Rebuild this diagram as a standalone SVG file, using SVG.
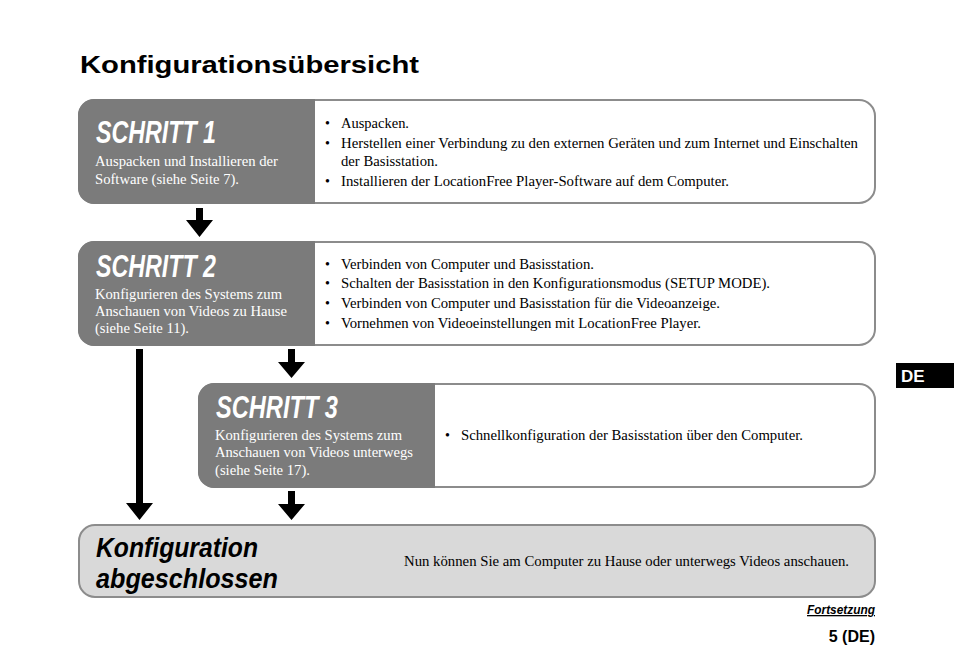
<svg xmlns="http://www.w3.org/2000/svg" width="954" height="671" viewBox="0 0 954 671">
<style>
.frame{fill:#ffffff;stroke:#8c8c8c;stroke-width:2}
.panel{fill:#7b7b7b}
.step{font-family:"Liberation Sans",Arial,sans-serif;font-weight:bold;font-style:italic;font-size:31px;fill:#ffffff}
.sub{font-family:"Liberation Serif","Times New Roman",serif;font-size:14px;fill:#ffffff}
.body{font-family:"Liberation Serif","Times New Roman",serif;font-size:14px;fill:#000000}
.done{font-family:"Liberation Sans",Arial,sans-serif;font-weight:bold;font-style:italic;font-size:27.5px;fill:#000000}
.arrow{fill:#000000}
</style>
<rect width="954" height="671" fill="#ffffff"/>
<text x="80" y="73" font-family="Liberation Sans,Arial,sans-serif" font-weight="900" font-size="23" textLength="339" lengthAdjust="spacingAndGlyphs">Konfigurationsübersicht</text>

<g id="schritt1">
<rect class="frame" x="79" y="100" width="796" height="103" rx="16"/>
<path class="panel" d="M315,99 H95 A16,16 0 0 0 78,116 V187 A16,16 0 0 0 95,204 H315 Z"/>
<text class="step" x="96" y="143" textLength="120" lengthAdjust="spacingAndGlyphs">SCHRITT 1</text>
<text class="sub" x="95" y="166" textLength="183" lengthAdjust="spacingAndGlyphs">Auspacken und Installieren der</text>
<text class="sub" x="95" y="184" textLength="144" lengthAdjust="spacingAndGlyphs">Software (siehe Seite 7).</text>
<text class="body" x="325" y="128">•</text><text class="body" x="341" y="128" textLength="68" lengthAdjust="spacingAndGlyphs">Auspacken.</text>
<text class="body" x="325" y="148">•</text><text class="body" x="341" y="148" textLength="517" lengthAdjust="spacingAndGlyphs">Herstellen einer Verbindung zu den externen Geräten und zum Internet und Einschalten</text>
<text class="body" x="341" y="166" textLength="97" lengthAdjust="spacingAndGlyphs">der Basisstation.</text>
<text class="body" x="325" y="186">•</text><text class="body" x="341" y="186" textLength="388" lengthAdjust="spacingAndGlyphs">Installieren der LocationFree Player-Software auf dem Computer.</text>
</g>

<g id="schritt2">
<rect class="frame" x="79" y="242" width="796" height="103" rx="16"/>
<path class="panel" d="M315,241 H95 A16,16 0 0 0 78,258 V329 A16,16 0 0 0 95,346 H315 Z"/>
<text class="step" x="96" y="277" textLength="120" lengthAdjust="spacingAndGlyphs">SCHRITT 2</text>
<text class="sub" x="95" y="299" textLength="187" lengthAdjust="spacingAndGlyphs">Konfigurieren des Systems zum</text>
<text class="sub" x="95" y="316" textLength="192" lengthAdjust="spacingAndGlyphs">Anschauen von Videos zu Hause</text>
<text class="sub" x="95" y="333" textLength="94" lengthAdjust="spacingAndGlyphs">(siehe Seite 11).</text>
<text class="body" x="325" y="269">•</text><text class="body" x="341" y="269" textLength="253" lengthAdjust="spacingAndGlyphs">Verbinden von Computer und Basisstation.</text>
<text class="body" x="325" y="288">•</text><text class="body" x="341" y="288" textLength="429" lengthAdjust="spacingAndGlyphs">Schalten der Basisstation in den Konfigurationsmodus (SETUP MODE).</text>
<text class="body" x="325" y="308">•</text><text class="body" x="341" y="308" textLength="379" lengthAdjust="spacingAndGlyphs">Verbinden von Computer und Basisstation für die Videoanzeige.</text>
<text class="body" x="325" y="328">•</text><text class="body" x="341" y="328" textLength="360" lengthAdjust="spacingAndGlyphs">Vornehmen von Videoeinstellungen mit LocationFree Player.</text>
</g>

<g id="schritt3">
<rect class="frame" x="199" y="384" width="676" height="103" rx="16"/>
<path class="panel" d="M435,383 H215 A16,16 0 0 0 198,400 V471 A16,16 0 0 0 215,488 H435 Z"/>
<text class="step" x="216" y="418" textLength="122" lengthAdjust="spacingAndGlyphs">SCHRITT 3</text>
<text class="sub" x="215" y="440" textLength="187" lengthAdjust="spacingAndGlyphs">Konfigurieren des Systems zum</text>
<text class="sub" x="215" y="457" textLength="198" lengthAdjust="spacingAndGlyphs">Anschauen von Videos unterwegs</text>
<text class="sub" x="215" y="475" textLength="95" lengthAdjust="spacingAndGlyphs">(siehe Seite 17).</text>
<text class="body" x="445" y="440">•</text><text class="body" x="461" y="440" textLength="342" lengthAdjust="spacingAndGlyphs">Schnellkonfiguration der Basisstation über den Computer.</text>
</g>

<g id="abgeschlossen">
<rect x="79" y="525" width="796" height="72" rx="16" fill="#d9d9d9" stroke="#8c8c8c" stroke-width="2"/>
<text class="done" x="96" y="557" textLength="162" lengthAdjust="spacingAndGlyphs">Konfiguration</text>
<text class="done" x="96" y="588" textLength="182" lengthAdjust="spacingAndGlyphs">abgeschlossen</text>
<text class="body" x="404" y="566" textLength="445" lengthAdjust="spacingAndGlyphs">Nun können Sie am Computer zu Hause oder unterwegs Videos anschauen.</text>
</g>

<g id="connectors">
<polygon class="arrow" points="196,208 203,208 203,220 213,220 199.5,237 186,220 196,220"/>
<polygon class="arrow" points="136,349 143,349 143,503 153,503 139.5,520 126,503 136,503"/>
<polygon class="arrow" points="288,349 295,349 295,362 305,362 291.5,378 278,362 288,362"/>
<polygon class="arrow" points="288,491 295,491 295,504 305,504 291.5,520 278,504 288,504"/>
</g>

<g id="de-tab">
<rect x="896" y="363" width="58" height="25" fill="#000000"/>
<text x="901" y="382" font-family="Liberation Sans,Arial,sans-serif" font-weight="bold" font-size="17" fill="#ffffff">DE</text>
</g>
<text x="875" y="614" text-anchor="end" font-family="Liberation Sans,Arial,sans-serif" font-weight="bold" font-style="italic" font-size="13" text-decoration="underline" textLength="68" lengthAdjust="spacingAndGlyphs">Fortsetzung</text>
<text x="875" y="642" text-anchor="end" font-family="Liberation Sans,Arial,sans-serif" font-weight="bold" font-size="16">5 (DE)</text>
</svg>
